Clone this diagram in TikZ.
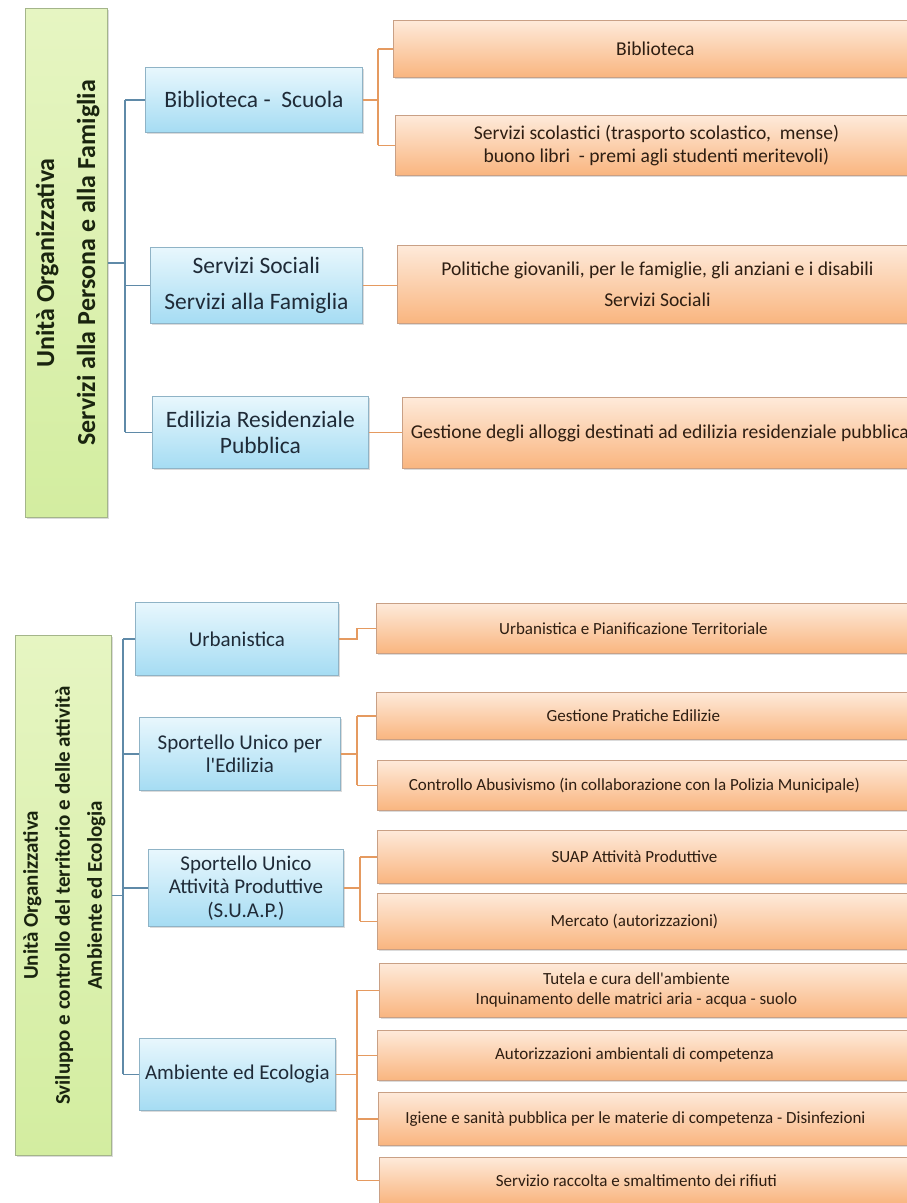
\documentclass[tikz,border=0pt]{standalone}
\usepackage{fontspec}
\setmainfont{Carlito}
\usepackage{graphicx}
\usetikzlibrary{shadows}
\definecolor{btop}{HTML}{E8F7FD}
\definecolor{bbot}{HTML}{A5DCF3}
\definecolor{bborder}{HTML}{8FB3C6}
\definecolor{btext}{HTML}{1F2B38}
\definecolor{otop}{HTML}{FEEADA}
\definecolor{obot}{HTML}{F9B57F}
\definecolor{oborder}{HTML}{C9A085}
\definecolor{otext}{HTML}{2E1E12}
\definecolor{gtop}{HTML}{E6F5C2}
\definecolor{gbot}{HTML}{D3EDA0}
\definecolor{gborder}{HTML}{A4B58A}
\definecolor{gtext}{HTML}{1A240F}
\definecolor{bline}{HTML}{5F8AA8}
\definecolor{oline}{HTML}{E59A60}
\newcommand\obtext[1]{\parbox{514pt}{\centering #1}\hspace*{29pt}}
\newcommand\vlines[3]{\rotatebox{90}{\fontsize{#1}{#2}\selectfont\bfseries\begin{tabular}{@{}c@{}}#3\end{tabular}}}
\begin{document}
\begin{tikzpicture}[x=1pt,y=-1pt,
  shad/.style={drop shadow={opacity=0.28,shadow xshift=1.2pt,shadow yshift=-2pt}},
  gbox/.style={draw=gborder,line width=0.8pt,top color=gtop,bottom color=gbot,shad,text=gtext,anchor=north west,inner sep=0pt},
  bbox/.style={draw=bborder,line width=0.8pt,top color=btop,bottom color=bbot,shad,text=btext,align=center,anchor=north west,inner sep=2pt},
  obox/.style={draw=oborder,line width=0.8pt,top color=otop,bottom color=obot,shad,text=otext,align=center,anchor=north west,inner sep=2pt},
  obox2/.style={obox,inner xsep=0pt,font=\fontsize{17}{20}\selectfont},
  bcon/.style={draw=bline,line width=1.6pt},
  ocon/.style={draw=oline,line width=1.6pt}]
\useasboundingbox (0,0) rectangle (907,1203);
\fill[white] (0,0) rectangle (907,1203);

% ---------- top section ----------
\node[gbox,minimum width=75pt,minimum height=509pt] (g1) at (25,8)
  {\vlines{26}{41}{Unità Organizzativa\\Servizi alla Persona e alla Famiglia}};

\node[bbox,minimum width=217pt,minimum height=65pt,font=\fontsize{23.5}{26}\selectfont] (b1) at (145,67) {Biblioteca -\ \ Scuola};
\node[bbox,minimum width=212pt,minimum height=76pt,font=\fontsize{23.5}{36}\selectfont] (b2) at (150,247) {Servizi Sociali\\Servizi alla Famiglia};
\node[bbox,minimum width=216pt,minimum height=72pt,font=\fontsize{23.5}{26}\selectfont] (b3) at (152,396) {Edilizia Residenziale\\Pubblica};

\node[obox,minimum width=524pt,minimum height=57pt,font=\fontsize{19.6}{23}\selectfont] (o1) at (393,20) {Biblioteca};
\node[obox,minimum width=522pt,minimum height=60pt,font=\fontsize{19.6}{23}\selectfont] (o2) at (395,115) {Servizi scolastici (trasporto scolastico,\ \ mense)\\buono libri\ \ - premi agli studenti meritevoli)};
\node[obox,minimum width=520pt,minimum height=78pt,font=\fontsize{19.6}{31}\selectfont] (o3) at (397,245) {Politiche giovanili, per le famiglie, gli anziani e i disabili\\Servizi Sociali};
\node[obox,minimum width=515pt,minimum height=71pt,font=\fontsize{19.6}{23}\selectfont] (o4) at (402,397) {Gestione degli alloggi destinati ad edilizia residenziale pubblica};

\coordinate (j1) at (125,262);
\coordinate (k1) at (378,0);
\draw[bcon] (g1.east) -- (g1.east -| j1);
\draw[bcon] (b1.west -| j1) -- (b3.west -| j1);
\foreach \n in {b1,b2,b3} \draw[bcon] (\n.west -| j1) -- (\n.west);
\draw[ocon] (b1.east) -- (b1.east -| k1);
\draw[ocon] (o1.west -| k1) -- (o2.west -| k1);
\foreach \n in {o1,o2} \draw[ocon] (\n.west -| k1) -- (\n.west);
\draw[ocon] (b2.east) -- (b2.east -| o3.west);
\draw[ocon] (b3.east) -- (b3.east -| o4.west);

% ---------- bottom section ----------
\node[gbox,minimum width=93pt,minimum height=520pt] (g2) at (15,635)
  {\vlines{21}{32}{Unità Organizzativa\\Sviluppo e controllo del territorio e delle attività\\Ambiente ed Ecologia}};

\node[bbox,minimum width=203pt,minimum height=73pt,font=\fontsize{21}{23}\selectfont] (u) at (135,602) {Urbanistica};
\node[bbox,minimum width=201pt,minimum height=73pt,font=\fontsize{21}{23}\selectfont] (se) at (139,717) {Sportello Unico per\\l\textquotesingle Edilizia};
\node[bbox,minimum width=195pt,minimum height=77pt,font=\fontsize{21}{23.5}\selectfont] (sp) at (148,849) {Sportello Unico\\Attività Produttive\\(S.U.A.P.)};
\node[bbox,minimum width=196pt,minimum height=72pt,font=\fontsize{21}{23}\selectfont] (ae) at (139,1038) {Ambiente ed Ecologia};

\node[obox2,minimum height=50pt] (ou) at (376,603) {\obtext{Urbanistica e Pianificazione Territoriale}};
\node[obox2,minimum height=47pt] (op1) at (376,692) {\obtext{Gestione Pratiche Edilizie}};
\node[obox2,minimum height=50pt] (op2) at (377,760) {\obtext{Controllo Abusivismo (in collaborazione con la Polizia Municipale)}};
\node[obox2,minimum height=53pt] (os1) at (377,830) {\obtext{SUAP Attività Produttive}};
\node[obox2,minimum height=56pt] (os2) at (377,893) {\obtext{Mercato (autorizzazioni)}};
\node[obox2,minimum height=54pt] (oa1) at (379,963) {\obtext{Tutela e cura dell\textquotesingle ambiente\\Inquinamento delle matrici aria - acqua - suolo}};
\node[obox2,minimum height=50pt] (oa2) at (377,1030) {\obtext{Autorizzazioni ambientali di competenza}};
\node[obox2,minimum height=53pt] (oa3) at (378,1092) {\obtext{Igiene e sanità pubblica per le materie di competenza - Disinfezioni}};
\node[obox2,minimum height=46pt] (oa4) at (379,1157) {\obtext{Servizio raccolta e smaltimento dei rifiuti}};

\coordinate (j2) at (123,0);
\draw[bcon] (g2.east) -- (g2.east -| j2);
\draw[bcon] (u.west -| j2) -- (ae.west -| j2);
\foreach \n in {u,se,sp,ae} \draw[bcon] (\n.west -| j2) -- (\n.west);

\coordinate (k2) at (357,0);
\coordinate (k3) at (360,0);
\draw[ocon] (u.east) -- (u.east -| k2) |- (ou.west);
\draw[ocon] (se.east) -- (se.east -| k2);
\draw[ocon] (op1.west -| k2) -- (op2.west -| k2);
\foreach \n in {op1,op2} \draw[ocon] (\n.west -| k2) -- (\n.west);
\draw[ocon] (sp.east) -- (sp.east -| k3);
\draw[ocon] (os1.west -| k3) -- (os2.west -| k3);
\foreach \n in {os1,os2} \draw[ocon] (\n.west -| k3) -- (\n.west);
\draw[ocon] (ae.east) -- (ae.east -| k2);
\draw[ocon] (oa1.west -| k2) -- (oa4.west -| k2);
\foreach \n in {oa1,oa2,oa3,oa4} \draw[ocon] (\n.west -| k2) -- (\n.west);
\end{tikzpicture}
\end{document}
